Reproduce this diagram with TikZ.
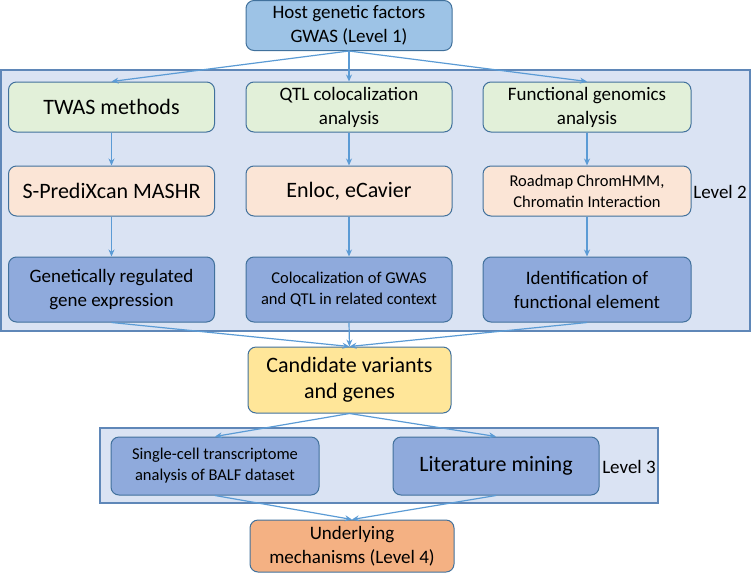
\documentclass[tikz,border=0pt]{standalone}
\usepackage{fontspec}
\setmainfont{Carlito}
\usepackage{xcolor}
\usepackage{tikz}
\usetikzlibrary{positioning}
\usetikzlibrary{arrows.meta}

\definecolor{boxline}{HTML}{41719C}
\definecolor{panelfill}{HTML}{DAE3F3}
\definecolor{panelline}{HTML}{5F87B8}
\definecolor{gwasfill}{HTML}{9DC3E6}
\definecolor{greenfill}{HTML}{E2F0D9}
\definecolor{peachfill}{HTML}{FBE5D6}
\definecolor{bluefill}{HTML}{8FAADC}
\definecolor{candfill}{HTML}{FFE699}
\definecolor{mechfill}{HTML}{F4B183}
\definecolor{arrowcol}{HTML}{5B9BD5}

\newcommand{\fbig}{\fontsize{22}{26}\selectfont}
\newcommand{\fmid}{\fontsize{19}{24}\selectfont}
\newcommand{\fsmall}{\fontsize{16.5}{21}\selectfont}

\tikzset{
  box/.style={draw=boxline, line width=1pt, rounded corners=8pt, align=center,
    minimum width=206pt, minimum height=50pt, inner sep=2pt, font=\fmid},
  panel/.style={draw=panelline, fill=panelfill, line width=1.2pt},
  flow/.style={draw=arrowcol, line width=1.2pt, -{Stealth[length=7pt,width=6pt]}}
}

\begin{document}
\begin{tikzpicture}[x=1pt,y=-1pt]
\useasboundingbox (0,0) rectangle (751,573);

% Draw the panels first
\draw[panel] (1,70) rectangle (750,331);
\draw[panel] (100,428) rectangle (658,503);

% Level 1
\node[box, fill=gwasfill] (gwas) at (349,25.5) {Host genetic factors\\GWAS (Level 1)};

% Level 2: methods
\node[box, fill=greenfill, font=\fbig] (twas) at (111.5,107) {TWAS methods};
\node[box, fill=greenfill] (qtl) at (349,107) {QTL colocalization\\analysis};
\node[box, fill=greenfill, minimum width=208pt] (func) at (587,107) {Functional genomics\\analysis};

% Level 2: tools
\node[box, fill=peachfill, font=\fbig] (spred) at (111.5,191) {S-PrediXcan MASHR};
\node[box, fill=peachfill, font=\fbig] (enloc) at (349,191) {Enloc, eCavier};
\node[box, fill=peachfill, minimum width=208pt, font=\fsmall] (roadmap) at (587,191) {Roadmap ChromHMM,\\Chromatin Interaction};

% Level 2: results
\node[box, fill=bluefill, minimum height=65pt] (grex) at (111.5,289.5) {Genetically regulated\\gene expression};
\node[box, fill=bluefill, minimum height=65pt, font=\fsmall] (coloc) at (349,289.5) {Colocalization of GWAS\\and QTL in related context};
\node[box, fill=bluefill, minimum height=65pt, minimum width=208pt] (ident) at (587,289.5) {Identification of\\functional element};
\node[font=\fmid] (lvltwo) at (720,192) {Level 2};

% Candidates
\node[box, fill=candfill, minimum width=203pt, minimum height=66pt, font=\fbig] (cand) at (349.5,380) {Candidate variants\\and genes};

% Level 3
\node[box, fill=bluefill, minimum width=208pt, minimum height=58pt, font=\fsmall] (scell) at (215,466) {Single-cell transcriptome\\analysis of BALF dataset};
\node[box, fill=bluefill, minimum height=58pt, font=\fbig] (lit) at (496,466) {Literature mining};
\node[font=\fmid] (lvlthree) at (629,467) {Level 3};

% Level 4
\node[box, fill=mechfill, minimum width=204pt, minimum height=52pt] (mech) at (352,546) {Underlying\\mechanisms (Level 4)};

% Arrows
\draw[flow] (gwas.south) -- (twas.north);
\draw[flow] (gwas.south) -- (qtl.north);
\draw[flow] (gwas.south) -- (func.north);
\foreach \a/\b in {twas/spred, qtl/enloc, func/roadmap, spred/grex, enloc/coloc, roadmap/ident}
{
    \draw[flow] (\a.south) -- (\b.north);
}
\foreach \a in {grex, coloc, ident}
{
    \draw[flow] (\a.south) -- (cand.north);
}
\draw[flow] (cand.south) -- (scell.north);
\draw[flow] (cand.south) -- (lit.north);
\draw[flow] (scell.south) -- (mech.north);
\draw[flow] (lit.south) -- (mech.north);
\end{tikzpicture}
\end{document}
